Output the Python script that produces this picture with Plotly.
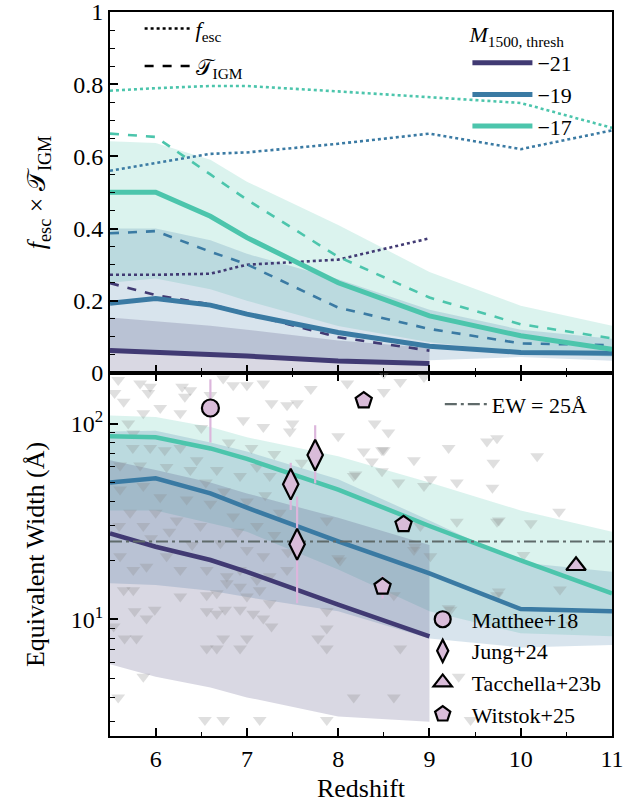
import plotly.graph_objects as go

# ---------------- data ----------------
Z = [5.5, 6.0, 6.6, 7.0, 8.0, 9.0, 10.0, 11.0]
Z21 = [5.5, 6.0, 6.6, 7.0, 8.0, 9.0]
MAGS = ["\u221221", "\u221219", "\u221217"]
COLORS = ["#413a73", "#3a7aa3", "#4cc5ac"]
RGB = [(65, 58, 115), (58, 122, 163), (76, 197, 172)]

# top panel: f_esc (dotted), T_IGM (dashed), product (solid), product band
FESC = [
    [0.272, 0.272, 0.275, 0.300, 0.314, 0.373],
    [0.560, 0.582, 0.607, 0.611, 0.635, 0.663, 0.620, 0.672],
    [0.782, 0.789, 0.795, 0.795, 0.780, 0.765, 0.748, 0.679],
]
TIGM = [
    [0.249, 0.216, 0.190, 0.165, 0.099, 0.062],
    [0.387, 0.393, 0.336, 0.301, 0.181, 0.122, 0.082, 0.077],
    [0.663, 0.654, 0.550, 0.480, 0.322, 0.209, 0.135, 0.096],
]
PROD = [
    [0.062, 0.057, 0.052, 0.047, 0.033, 0.026],
    [0.193, 0.206, 0.188, 0.163, 0.112, 0.074, 0.057, 0.055],
    [0.501, 0.501, 0.434, 0.375, 0.250, 0.158, 0.103, 0.066],
]
PROD_HI = [
    [0.154, 0.144, 0.131, 0.120, 0.090, 0.070],
    [0.400, 0.400, 0.368, 0.330, 0.260, 0.175, 0.120, 0.095],
    [0.642, 0.637, 0.591, 0.530, 0.410, 0.280, 0.186, 0.131],
]
PROD_LO = [
    [0.003, 0.003, 0.003, 0.003, 0.003, 0.003],
    [0.057, 0.055, 0.048, 0.042, 0.028, 0.035, 0.044, 0.034],
    [0.250, 0.262, 0.232, 0.200, 0.130, 0.085, 0.058, 0.045],
]

# bottom panel: equivalent width median and band
EW = [
    [27.5, 23.5, 20.1, 17.5, 11.9, 8.2],
    [50.0, 52.5, 44.0, 37.2, 25.0, 17.2, 11.3, 11.0],
    [86.0, 85.0, 74.6, 66.0, 46.0, 30.0, 20.0, 13.6],
]
EW_HI = [
    [65, 58, 50, 44, 33, 24],
    [91, 92, 80, 72, 52, 32, 19.5, 17.5],
    [110, 108, 96, 85, 68, 50, 36, 28],
]
EW_LO = [
    [5.9, 5.1, 4.5, 4.0, 3.2, 3.0],
    [15.3, 15.0, 14.0, 13.0, 11.0, 8.0, 7.2, 7.4],
    [36, 36, 31, 28, 18, 11, 8.5, 8.2],
]
EW_THRESH = 25.0

# upper limits (grey triangles)
UL_Z = [5.59, 5.83, 5.94, 5.55, 5.65, 5.92, 6.29, 6.38, 6.32, 6.74, 6.85, 7.00, 7.18,
        7.27, 7.44, 7.55, 5.865, 6.27, 6.96, 7.18, 7.47, 8.00, 5.755, 5.94, 6.10, 6.27,
        5.61, 5.83, 6.12, 6.38, 6.67, 6.925, 7.11, 7.25, 5.61, 5.865, 6.05, 6.34, 6.60,
        6.85, 7.11, 7.36, 5.72, 5.865, 6.23, 6.49, 6.71, 7.00, 7.18, 5.61, 5.90, 6.27,
        6.56, 6.925, 7.875, 8.02, 8.17, 8.28,
        5.70, 6.05, 6.50, 6.60, 6.80, 7.05, 7.30, 5.75, 6.45, 6.75, 7.00, 5.95, 6.15,
        6.40, 6.90, 7.30, 7.50, 7.70, 5.60, 6.00, 6.55, 7.20, 7.45, 7.60, 8.10, 8.40, 8.55,
        5.65, 5.755, 6.27, 6.56, 6.67, 6.78, 6.925, 7.00, 7.14, 7.25, 5.77, 5.90, 5.99,
        6.56, 6.67, 6.76, 6.925, 7.07, 7.18, 7.27, 7.875, 7.875, 5.54, 5.66, 5.79, 6.56,
        6.67, 6.74, 6.925, 7.00, 7.78, 7.875, 5.865, 5.59, 8.17, 6.54, 6.74, 7.14, 7.875,
        5.755, 6.12, 6.78, 7.11, 7.25, 7.44,
        8.50, 8.68, 8.94, 8.50, 9.74, 9.63, 9.70, 10.18, 9.21, 8.83, 8.50, 9.30, 9.69,
        9.01, 8.94, 10.42, 10.11, 9.74, 9.30, 8.90, 8.83, 9.01, 10.03, 8.48, 8.37, 8.48,
        8.19, 8.66, 9.76, 8.84, 8.00, 8.61, 9.23, 9.76, 10.43, 8.68, 9.32, 8.61, 9.45,
        9.74, 10.56, 9.21]
UL_EW = [167, 160, 154, 143, 129, 143, 154, 148, 137, 170, 157, 157, 160,
         127, 124, 127, 113, 113, 104, 96, 91, 86, 89, 75, 73, 75,
         61, 61, 60, 58, 58, 54, 60, 54, 46, 48, 42, 41, 39,
         33.5, 30, 35, 35, 30, 32, 30, 24.5, 22.6, 21, 21, 18.6, 17.9,
         17.9, 17.9, 32, 20, 54, 72,
         100, 120, 95, 140, 80, 75, 70, 75, 65, 45, 40, 26, 28,
         24, 28, 27, 100, 150, 30, 35, 50, 43, 22, 63, 160, 100, 90,
         14.1, 14.1, 13.1, 13.3, 13.6, 15.3, 14.7, 13.1, 14.1, 12.1, 11.0, 10.1, 11.2,
         11.0, 10.7, 11.2, 11.2, 10.7, 10.1, 9.2, 11.0, 9.0, 9.2, 8.0, 8.0, 7.1,
         7.1, 8.0, 7.1, 8.0, 8.0, 7.1, 5.1, 4.0, 4.0, 3.07, 3.07, 3.07, 3.07,
         17.9, 21, 16.6, 15.9, 16.6, 17.9,
         180, 163, 173, 145, 84, 81, 63, 68, 75, 65, 73, 50, 47,
         52, 48, 35.5, 31, 31.5, 31.5, 30, 22.6, 21, 21.3, 73, 64, 57,
         55, 50, 32, 23.5, 20.5, 13.3, 11.2, 13.9, 14.2, 7.1, 5.1, 4.0, 3.07,
         13.3, 9.4, 11.4]

# observations
OBS_NAMES = ["Matthee+18", "Jung+24", "Tacchella+23b", "Witstok+25"]
OBS_Z = [[6.60], [7.748, 7.48, 7.55], [10.606], [8.28, 8.716, 8.486]]
OBS_EW = [[120], [69, 49, 24.2], [18.8], [131, 30.6, 14.7]]
OBS_ERR_UP = [[48], [29, 14, 18.2], [0], [0, 0, 1.9]]
OBS_ERR_DN = [[40], [19.5, 12.8, 12.1], [0], [0, 0, 1.9]]
OBS_SYMBOLS = ["circle", "diamond-tall", "triangle-up", "pentagon"]
OBS_SIZES = [17, 22, 17, 17]

X_RANGE = [5.5, 11.0]

# ---------------- figure ----------------
FONT = "Liberation Serif, Times New Roman, Times, serif"
fig = go.Figure()


def rgba(c, a):
    return "rgba(%d,%d,%d,%.2f)" % (c[0], c[1], c[2], a)


# top panel bands
for i in [2, 1, 0]:
    zz = Z21 if i == 0 else Z
    fig.add_trace(go.Scatter(
        x=zz + zz[::-1], y=PROD_HI[i] + PROD_LO[i][::-1], fill="toself",
        fillcolor=rgba(RGB[i], 0.2), line=dict(width=0), mode="lines",
        showlegend=False, hoverinfo="skip", xaxis="x", yaxis="y"))

# top panel lines
for i in range(3):
    zz = Z21 if i == 0 else Z
    fig.add_trace(go.Scatter(x=zz, y=FESC[i], mode="lines",
                             line=dict(color=COLORS[i], width=2.6, dash="dot"),
                             showlegend=False, xaxis="x", yaxis="y"))
    fig.add_trace(go.Scatter(x=zz, y=TIGM[i], mode="lines",
                             line=dict(color=COLORS[i], width=2.6, dash="dash"),
                             showlegend=False, xaxis="x", yaxis="y"))
for i in range(3):
    zz = Z21 if i == 0 else Z
    fig.add_trace(go.Scatter(x=zz, y=PROD[i], mode="lines", name=MAGS[i],
                             line=dict(color=COLORS[i], width=5),
                             legend="legend2", xaxis="x", yaxis="y"))

# linestyle legend samples
fig.add_trace(go.Scatter(x=[None], y=[None], mode="lines",
                         name="<i>f</i><sub>esc</sub>",
                         line=dict(color="black", width=2.6, dash="dot"),
                         legend="legend", legendgroup="ls1", xaxis="x", yaxis="y"))
fig.add_trace(go.Scatter(x=[None], y=[None], mode="lines",
                         name="\U0001D4AF<sub>IGM</sub>",
                         line=dict(color="black", width=2.6, dash="dash"),
                         legend="legend", legendgroup="ls2", xaxis="x", yaxis="y"))

# bottom panel bands
for i in [2, 1, 0]:
    zz = Z21 if i == 0 else Z
    fig.add_trace(go.Scatter(
        x=zz + zz[::-1], y=EW_HI[i] + EW_LO[i][::-1], fill="toself",
        fillcolor=rgba(RGB[i], 0.2), line=dict(width=0), mode="lines",
        showlegend=False, hoverinfo="skip", xaxis="x2", yaxis="y2"))

# upper limits
fig.add_trace(go.Scatter(x=UL_Z, y=UL_EW, mode="markers",
                         marker=dict(symbol="triangle-down", size=12,
                                     color="rgba(135,135,135,0.27)", line=dict(width=0)),
                         showlegend=False, xaxis="x2", yaxis="y2"))

# EW lines
for i in range(3):
    zz = Z21 if i == 0 else Z
    fig.add_trace(go.Scatter(x=zz, y=EW[i], mode="lines",
                             line=dict(color=COLORS[i], width=4.5),
                             showlegend=False, xaxis="x2", yaxis="y2"))

# EW threshold
fig.add_trace(go.Scatter(x=X_RANGE, y=[EW_THRESH, EW_THRESH], mode="lines",
                         name="EW = 25\u00c5",
                         line=dict(color="#5f6a6a", width=2.2, dash="12px,4px,3px,4px"),
                         legend="legend3", xaxis="x2", yaxis="y2"))

# observations
for k in range(4):
    fig.add_trace(go.Scatter(
        x=OBS_Z[k], y=OBS_EW[k], mode="markers", name=OBS_NAMES[k],
        marker=dict(symbol=OBS_SYMBOLS[k], size=OBS_SIZES[k], color="#d9bcd9",
                    line=dict(color="black", width=2.2)),
        error_y=dict(type="data", symmetric=False, array=OBS_ERR_UP[k],
                     arrayminus=OBS_ERR_DN[k], color="#dcb6dc", thickness=2.2, width=0),
        legend="legend4", xaxis="x2", yaxis="y2"))

SPLIT = 0.5014
axis_common = dict(showline=True, linecolor="black", linewidth=2, ticks="inside",
                   ticklen=8, tickwidth=1.6, tickcolor="black", showgrid=False,
                   zeroline=False, automargin=False, ticklabeloverflow="allow",
                   tickfont=dict(family=FONT, size=24, color="black"))

fig.update_layout(
    width=642, height=810,
    margin=dict(l=110, r=30, t=12, b=74, autoexpand=False),
    plot_bgcolor="white", paper_bgcolor="white",
    font=dict(family=FONT, size=22, color="black"),
    xaxis=dict(domain=[0, 1], anchor="y", range=X_RANGE, dtick=1, showticklabels=False,
               mirror=True, minor=dict(ticks="inside", dtick=0.5, ticklen=4.5,
                                       tickwidth=1.4, tickcolor="black"),
               **axis_common),
    yaxis=dict(domain=[SPLIT, 1], anchor="x", range=[0, 1], dtick=0.2, mirror=True,
               minor=dict(ticks="inside", dtick=0.05, ticklen=4.5, tickwidth=1.4,
                          tickcolor="black"),
               title=dict(text="<i>f</i><sub>esc</sub> \u00d7 \U0001D4AF<sub>IGM</sub>",
                          font=dict(family=FONT, size=26), standoff=20),
               **axis_common),
    xaxis2=dict(domain=[0, 1], anchor="y2", range=X_RANGE, dtick=1, mirror="allticks",
                minor=dict(ticks="inside", dtick=0.5, ticklen=4.5, tickwidth=1.4,
                           tickcolor="black"),
                title=dict(text="Redshift", font=dict(family=FONT, size=26), standoff=8),
                **axis_common),
    yaxis2=dict(domain=[0, SPLIT], anchor="x2", type="log", range=[0.405, 2.258],
                mirror=True, tickvals=[10, 100], ticktext=["10<sup>1</sup>", "10<sup>2</sup>"],
                minor=dict(ticks="inside", tickvals=[3, 4, 5, 6, 7, 8, 9, 20, 30, 40, 50,
                                                     60, 70, 80, 90, 200],
                           ticklen=4.5, tickwidth=1.4, tickcolor="black"),
                title=dict(text="Equivalent Width (\u00c5)",
                           font=dict(family=FONT, size=26), standoff=19),
                **axis_common),
    legend=dict(x=0.059, y=1.006, xanchor="left", yanchor="top", bgcolor="rgba(0,0,0,0)",
                font=dict(family=FONT, size=22), tracegroupgap=6, itemwidth=46),
    legend2=dict(x=0.712, y=0.998, xanchor="left", yanchor="top", bgcolor="rgba(0,0,0,0)",
                 font=dict(family=FONT, size=22), itemwidth=60,
                 title=dict(text="<i>M</i><sub>1500, thresh</sub>",
                            font=dict(family=FONT, size=22), side="top")),
    legend3=dict(x=0.657, y=0.487, xanchor="left", yanchor="top", bgcolor="rgba(0,0,0,0)",
                 font=dict(family=FONT, size=22), itemwidth=42),
    legend4=dict(x=0.605, y=0.19, xanchor="left", yanchor="top", bgcolor="rgba(0,0,0,0)",
                 font=dict(family=FONT, size=22), itemsizing="trace", itemwidth=48),
)

fig.write_html("out.html")
